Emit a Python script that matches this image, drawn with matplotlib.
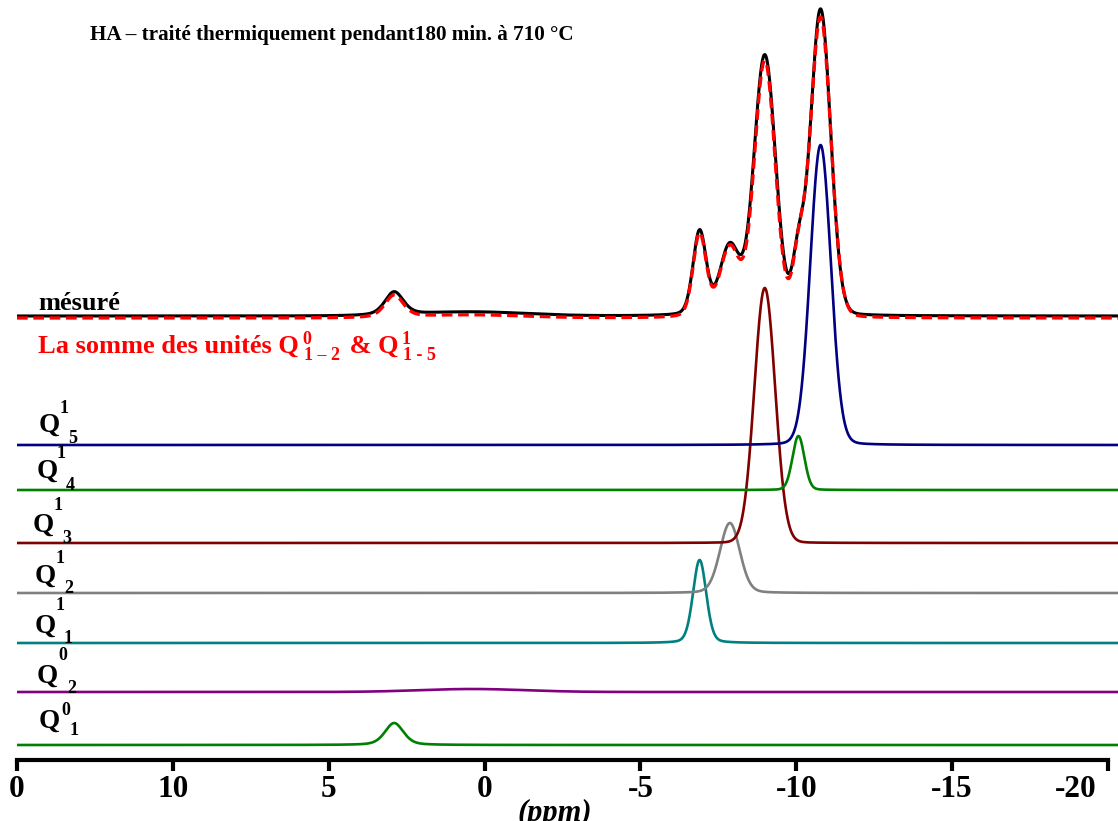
import numpy as np
import matplotlib
matplotlib.use("Agg")
import matplotlib.pyplot as plt
from matplotlib.transforms import ScaledTranslation

plt.rcParams['font.family'] = ['Liberation Serif', 'DejaVu Serif']
plt.rcParams['font.weight'] = 'bold'

# ---- data (ppm centre, height, FWHM, lorentz fraction) ----
comp_names = ["Q0_1", "Q0_2", "Q1_1", "Q1_2", "Q1_3", "Q1_4", "Q1_5"]
comp_centers = [2.9, 0.4, -6.9, -7.87, -8.99, -10.07, -10.78]
comp_heights = [22, 3, 83, 70, 255, 54, 300]
comp_fwhm = [0.7, 4.0, 0.5, 0.75, 0.79, 0.45, 0.78]
comp_eta = [0.4, 0.0, 0.2, 0.15, 0.03, 0.1, 0.06]
comp_colors = ["#008000", "#800080", "#008080", "#808080", "#800000", "#008000", "#000080"]

meas_centers = [2.9, 0.4, -6.9, -7.87, -8.99, -10.07, -10.78]
meas_heights = [23, 4, 84, 70, 259, 56, 306]
meas_fwhm = [0.7, 4.0, 0.5, 0.75, 0.81, 0.45, 0.76]
meas_eta = [0.4, 0.0, 0.2, 0.15, 0.03, 0.1, 0.06]

tick_pos = [15, 10, 5, 0, -5, -10, -15, -20]
tick_labels = ["0", "10", "5", "0", "-5", "-10", "-15", "-20"]

# layout (vertical offsets of stacked traces)
comp_offsets = [15, 68, 117, 167, 217, 270, 315]
meas_offset = 444
sum_offset = 442

def pv(x, c, h, w, eta):
    g = np.exp(-4 * np.log(2) * ((x - c) / w) ** 2)
    l = 1.0 / (1.0 + ((x - c) / (w / 2)) ** 2)
    return h * ((1 - eta) * g + eta * l)

XR = 15 - (1118 - 17) / 31.17
x = np.linspace(15, XR, 4000)

W, H = 1118, 821
fig = plt.figure(figsize=(11.18, 8.21), dpi=100)
ax = fig.add_axes([17 / W, 61 / H, 1 - 17 / W, 1 - 61 / H])
ax.set_xlim(15, XR)
ax.set_ylim(0, 760)

total = np.zeros_like(x)
for c, h, w, e, col, off in zip(comp_centers, comp_heights, comp_fwhm, comp_eta, comp_colors, comp_offsets):
    y = pv(x, c, h, w, e)
    total += y
    ax.plot(x, y + off, color=col, lw=1.9)

meas = np.zeros_like(x)
for c, h, w, e in zip(meas_centers, meas_heights, meas_fwhm, meas_eta):
    meas += pv(x, c, h, w, e)
ax.plot(x, meas + meas_offset, color="black", lw=2.2)
ax.plot(x, total + sum_offset, color="#ff0000", lw=2.4, dashes=(3.2, 1.7))

for s in ["left", "right", "top"]:
    ax.spines[s].set_visible(False)
ax.spines["bottom"].set_linewidth(3)
ax.spines["bottom"].set_bounds(15, -20)
ax.set_yticks([])
ax.set_xticks(tick_pos)
ax.set_xticklabels(tick_labels, fontsize=22.5, fontweight='bold')
ax.tick_params(axis='x', width=3, length=8, pad=3)
last = ax.get_xticklabels()[-1]
last.set_transform(last.get_transform() + ScaledTranslation(-0.32, 0, fig.dpi_scale_trans))

def ft(px, py, s, **kw):
    return fig.text(px / W, 1 - py / H, s, **kw)

ft(90, 40, "HA – traité thermiquement pendant180 min. à 710 °C", fontsize=15.2, fontweight='bold', va='baseline')
ft(38, 310, "mésuré", fontsize=19, fontweight='bold', va='baseline')
ft(555, 813, "(ppm)", fontsize=22, fontweight='bold', style='italic', ha='center', va='center')

# red label built from pieces, placed one after another
renderer = fig.canvas.get_renderer()
pieces = [("La somme des unités Q", 19, 0, 0),
          ("0", 13, 3, -9),
          ("1 – 2", 13, -7, 7),
          (" & Q", 19, 3, 0),
          ("1", 13, 3, -9),
          ("1 - 5", 13, -7, 7)]
cur_x = 38
base_y = 353
for s, fs, dx, dy in pieces:
    t = ft(cur_x + dx, base_y + dy, s, fontsize=fs, fontweight='bold', color="#ff0000", va='baseline', ha='left')
    bb = t.get_window_extent(renderer)
    cur_x = cur_x + dx + bb.width

# Q labels: (sup, sub, Q left x, Q baseline, sup x, sup baseline, sub x, sub baseline)
q_labels = [("1", "5", 39, 432, 60, 413, 68, 443),
            ("1", "4", 37, 478, 57, 458, 66, 490),
            ("1", "3", 33, 532, 54, 510, 62, 543),
            ("1", "2", 35, 583, 56, 563, 64, 593),
            ("1", "1", 35, 633, 56, 610, 64, 643),
            ("0", "2", 37, 683, 58, 660, 67, 693),
            ("0", "1", 39, 728, 61, 715, 70, 735)]
for sup, sub, qx, qy, sx, sy, bx, by in q_labels:
    ft(qx, qy, "Q", fontsize=19.5, fontweight='bold', ha='left', va='baseline')
    ft(sx, sy, sup, fontsize=13, fontweight='bold', ha='left', va='baseline')
    ft(bx, by, sub, fontsize=13, fontweight='bold', ha='left', va='baseline')

fig.savefig("out.png", dpi=100)
